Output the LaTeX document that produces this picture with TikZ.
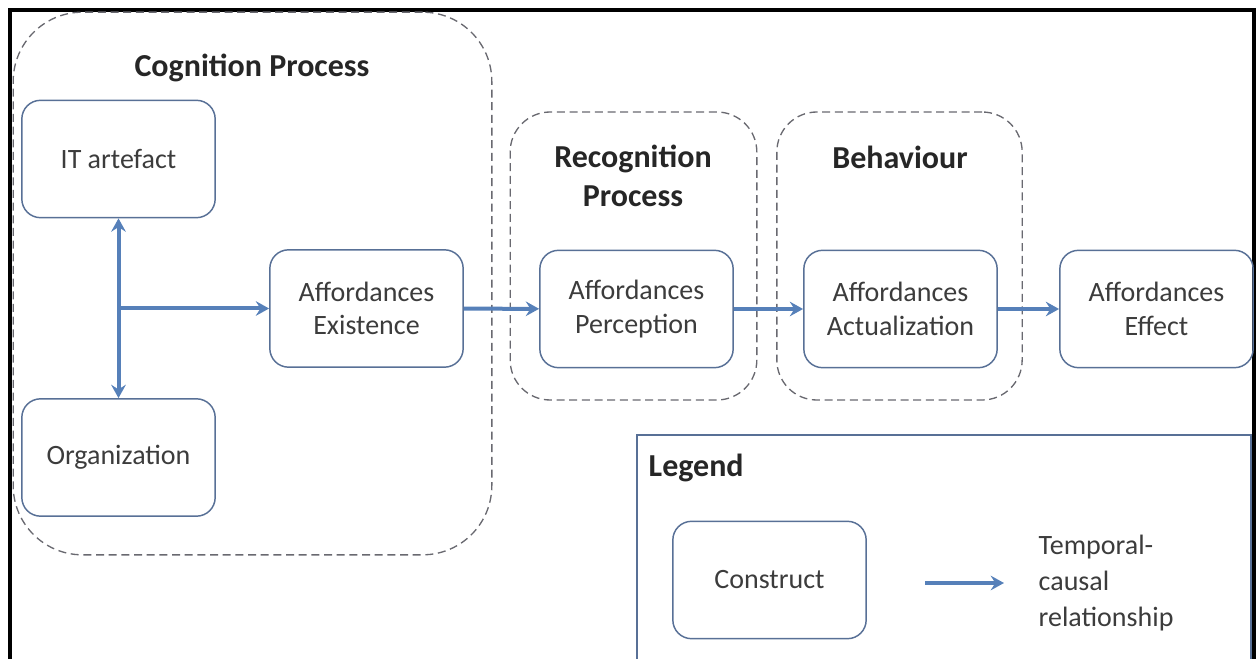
\documentclass[tikz,border=0pt]{standalone}
\usepackage{fontspec}
\setmainfont{Carlito}
\usetikzlibrary{arrows.meta}
\definecolor{boxline}{RGB}{88,112,150}
\definecolor{relblue}{RGB}{86,128,185}
\definecolor{dashgray}{RGB}{105,105,112}
\definecolor{txt}{RGB}{60,60,60}

\begin{document}
\begin{tikzpicture}[x=0.75pt, y=-0.75pt,
	construct/.style={draw=boxline, line width=1.1pt, rounded corners=14pt,
		minimum width=145pt, minimum height=88pt, align=center, text=txt,
		font=\fontsize{21}{25}\selectfont},
	group/.style={draw=dashgray, line width=1pt, dash pattern=on 6pt off 3.5pt,
		inner sep=0pt},
	heading/.style={align=center, text=black!85, font=\fontsize{24}{29}\selectfont\bfseries},
	rel/.style={draw=relblue, line width=3pt,
		-{Stealth[length=10pt, width=11pt, inset=3.5pt]}}]

	\useasboundingbox (0,0) rectangle (1258,659);

	% Frame
	\draw[line width=3pt] (10,670) -- (10,10) -- (1254,10) -- (1254,670);

	% Groups
	\node[group, rounded corners=52pt, minimum width=359pt, minimum height=407pt] (cognition) at (252.5,283.5) {};
	\node[group, rounded corners=30pt, minimum width=185pt, minimum height=216pt] (recognition) at (633.5,256) {};
	\node[group, rounded corners=30pt, minimum width=184pt, minimum height=216pt] (behaviour) at (899.5,256) {};

	\node[heading] (cognitionlbl) at (252,68) {Cognition Process};
	\node[heading] (recognitionlbl) at (633,176) {Recognition\\Process};
	\node[heading] (behaviourlbl) at (900,157) {Behaviour};

	% Constructs
	\node[construct] (artefact) at (118.5,159) {IT artefact};
	\node[construct] (organization) at (118.5,457.5) {Organization};
	\node[construct] (existence) at (366.5,308.5) {Affordances\\Existence};
	\node[construct] (perception) at (636.5,309) {Affordances\\Perception};
	\node[construct] (actualization) at (900.5,309) {Affordances\\Actualization};
	\node[construct] (effect) at (1156.5,309) {Affordances\\Effect};

	% Relationships
	\coordinate (junction) at (artefact.south |- existence);
	\draw[rel, {Stealth[length=10pt, width=11pt, inset=3.5pt]}-{Stealth[length=10pt, width=11pt, inset=3.5pt]}] (artefact) -- (organization);
	\draw[rel] (junction) -- (existence);
	\draw[rel] (existence) -- (perception);
	\draw[rel] (perception) -- (actualization);
	\draw[rel] (actualization) -- (effect);

	% Legend
	\draw[draw=boxline, line width=0.9pt] (637,670) -- (637,435) -- (1251,435) -- (1251,670);
	\node[heading, anchor=west] (legendlbl) at (644,468) {Legend};
	\node[construct] (legendbox) at (769.5,580) {Construct};
	\coordinate (relstart) at (925,583);
	\coordinate (relend) at (1004,583);
	\draw[rel] (relstart) -- (relend);
	\node[anchor=west, align=left, text=txt, font=\fontsize{21}{27}\selectfont] (legendrel) at (1034,583) {Temporal-\\causal\\relationship};

\end{tikzpicture}
\end{document}
